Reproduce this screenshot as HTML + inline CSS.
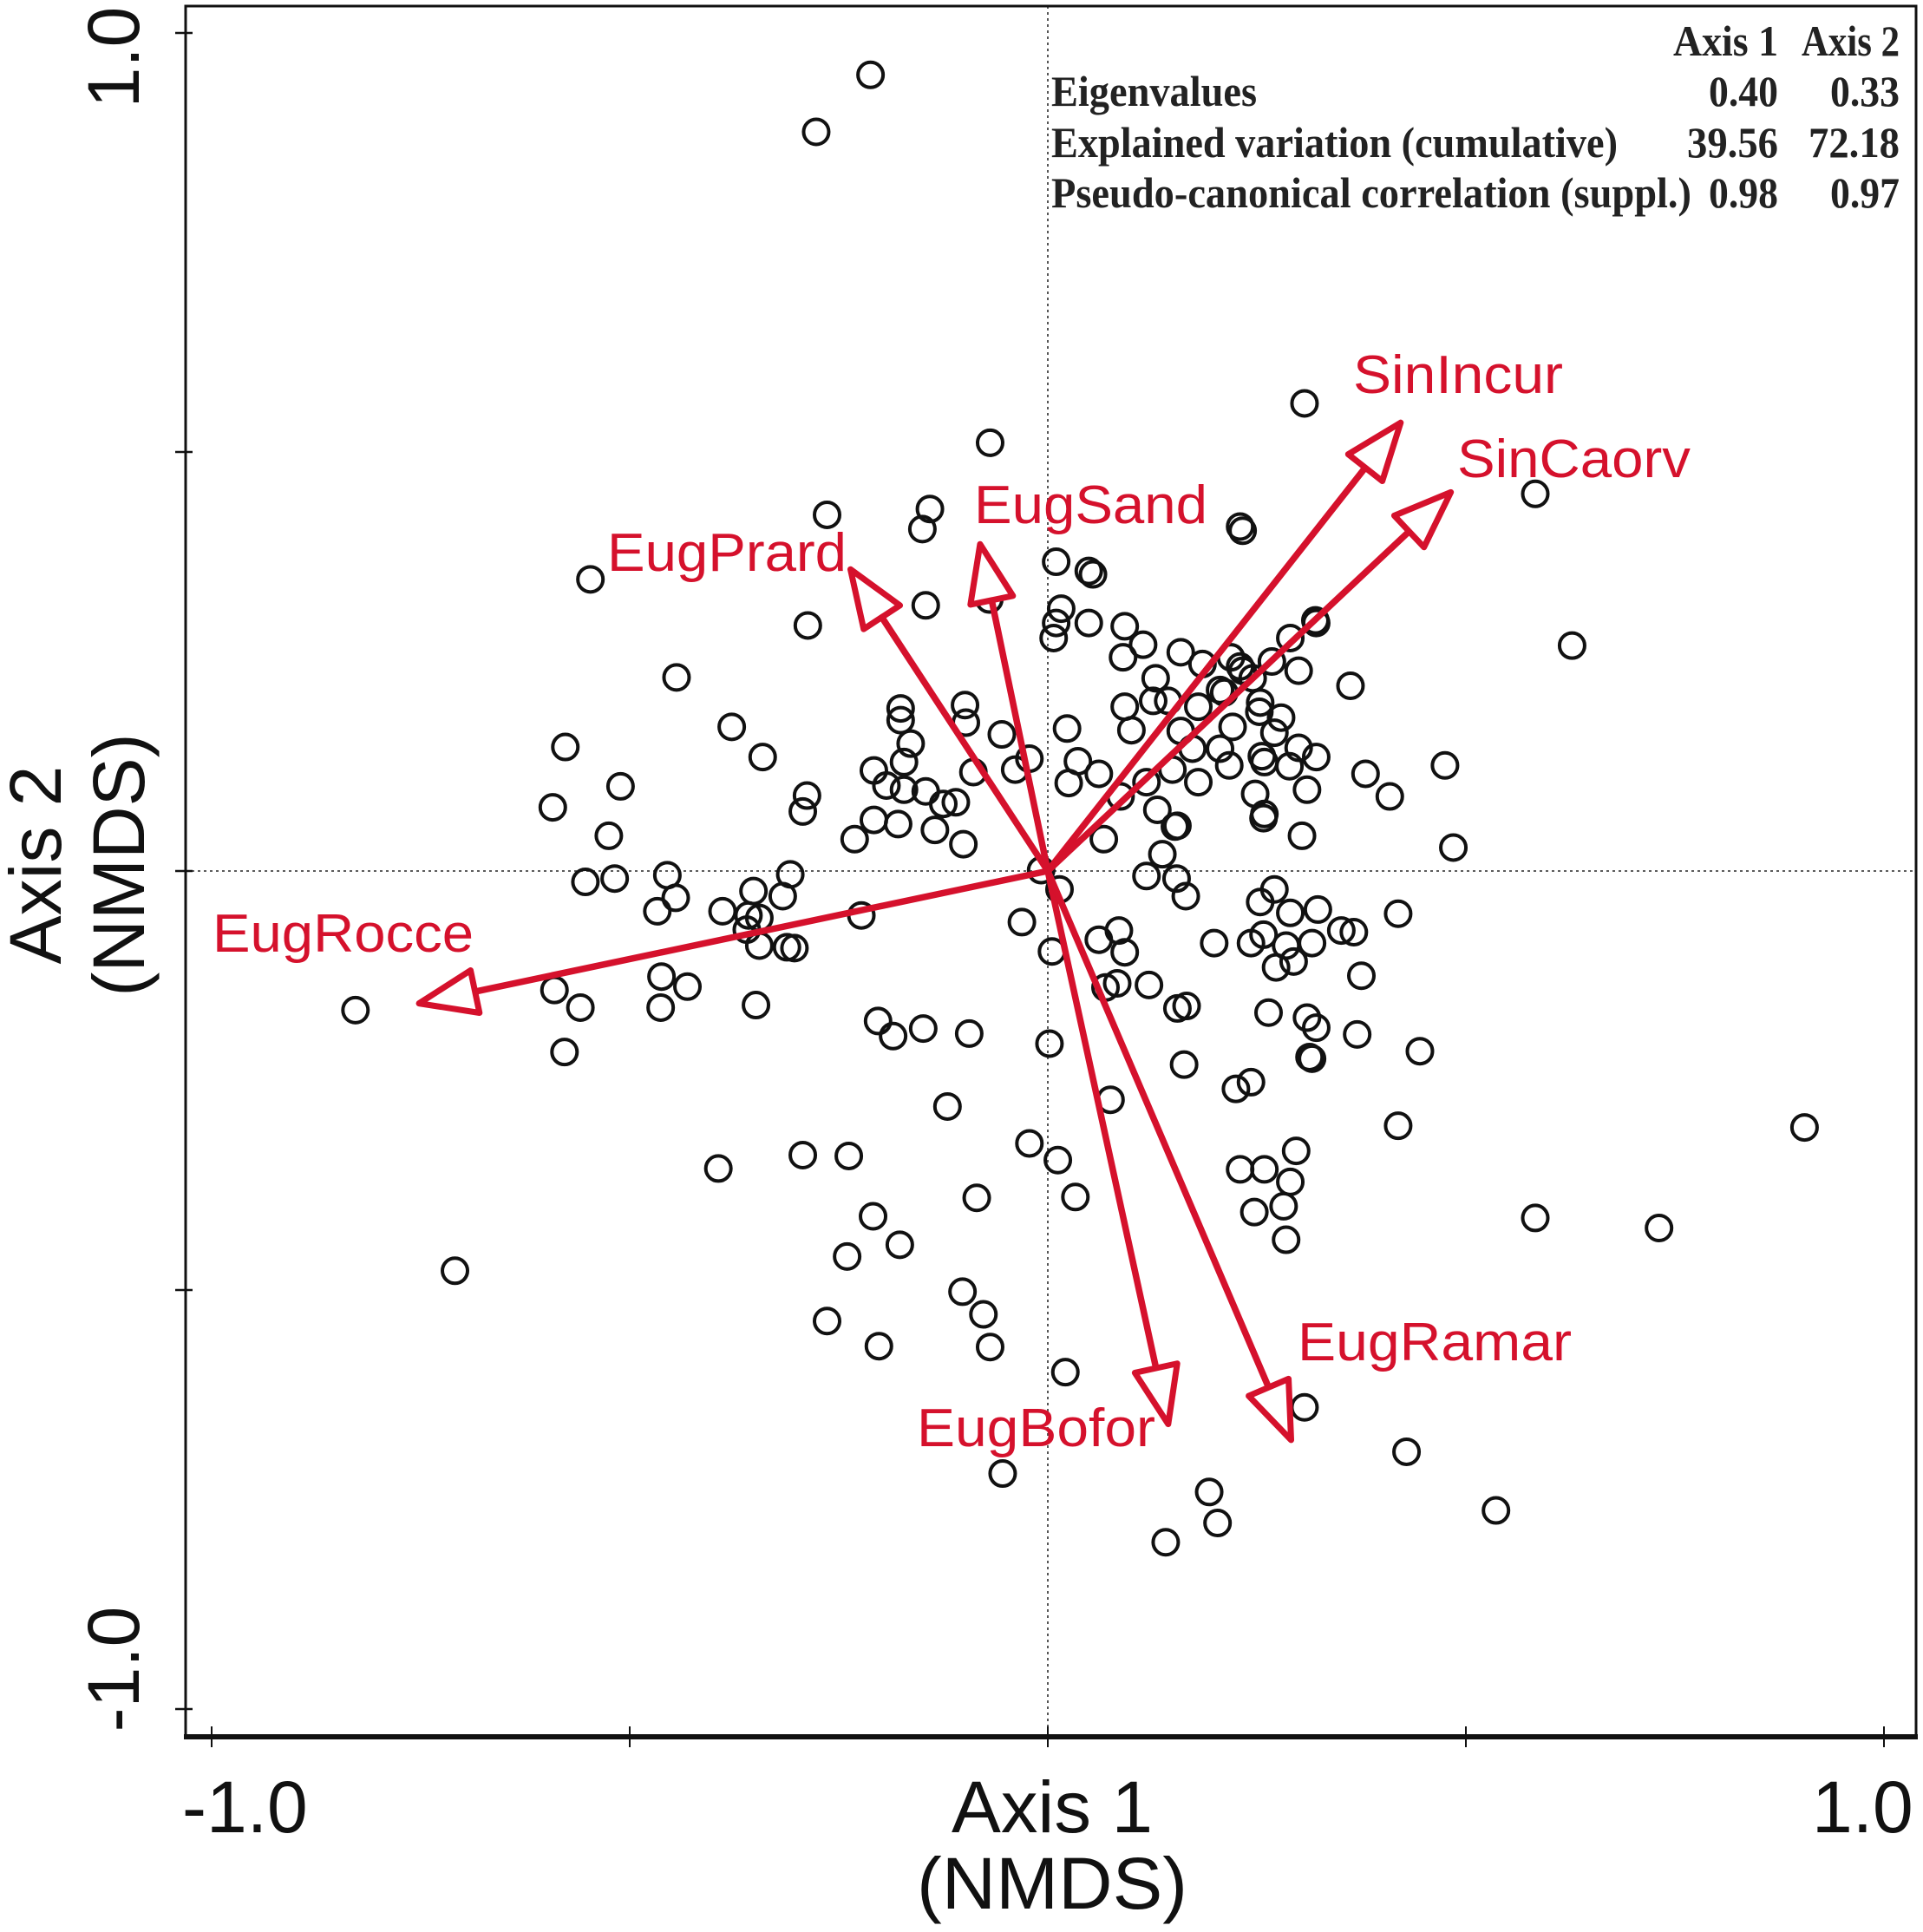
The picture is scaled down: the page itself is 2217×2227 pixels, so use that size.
<!DOCTYPE html>
<html><head><meta charset="utf-8"><style>
html,body{margin:0;padding:0;background:#fff}
svg{display:block}
</style></head><body>
<svg id="chart" xmlns="http://www.w3.org/2000/svg" width="2217" height="2227" viewBox="0 0 2217 2227">
<rect x="0" y="0" width="2217" height="2227" fill="#fff"/>
<g id="grid"></g>
<g id="points"></g>
<g id="arrows"></g>
<g id="frame"></g>
<g id="labels" font-family="'Liberation Sans', sans-serif"></g>
<g id="stats-table" font-family="'Liberation Serif', serif" font-weight="bold" font-size="50" fill="#222"></g>
</svg>
<script>
const ptX = [.230,.233,.010,.049,.054,.016,.010,.007,.049,.092,.114,.090,.159,.185,.219,.230,.233,.245,.268,.290,.320,.321,.300,.362,.129,.126,.144,.180,.206,.211,.254,.253,.279,.092,.100,.023,.159,.221,.271,.173,.206,.300,.321,.256,.259,.289,.217,.036,.061,.025,.149,.180,.118,.087,.131,.152,.155,.248,.310,.259,.258,.380,.409,.475,.304,.485,.067,.137,-.008,
.014,.118,.154,.165,.271,.254,.290,.323,.419,.351,.366,.061,.085,.092,.005,.199,.243,.258,.285,.316,.294,.273,.375,.069,.083,.121,.155,.166,.264,.310,.321,.370,.002,.445,.313,.316,.163,.225,.243,.075,.419,.012,.033,.230,.259,.297,.290,.247,.282,.285,
-.378,-.341,-.288,-.293,-.176,-.176,-.164,-.172,-.208,-.193,-.172,-.146,-.125,-.110,-.099,-.098,-.055,-.089,-.039,-.022,-.208,-.179,-.231,-.135,-.101,-.308,-.352,-.317,-.389,-.358,-.345,-.360,-.345,-.312,-.303,-.223,-.031,
-.212,-.277,.307,-.069,.583,-.141,-.264,-.150,-.547,-.146,-.070,-.287,.627,-.444,-.577,-.511,-.592,-.525,-.553,-.518,-.455,-.445,-.467,-.828,-.590,-.559,-.578,-.462,-.463,-.431,-.349,-.203,-.185,-.149,-.094,-.120,-.022,-.394,-.293,-.238,-.709,-.209,-.177,-.240,-.085,-.102,-.077,-.069,-.264,-.202,.021,-.054,.307,.429,.536,.193,.203,.141,.905,.731,.583];
const ptY = [.411,.406,.369,.358,.354,.313,.296,.278,.296,.292,.270,.255,.261,.247,.255,.244,.239,.230,.250,.278,.299,.296,.239,.221,.230,.203,.203,.196,.216,.213,.201,.190,.183,.196,.168,.170,.167,.172,.165,.146,.146,.147,.136,.137,.130,.125,.126,.131,.116,.105,.121,.106,.106,.089,.073,.053,.054,.092,.097,.068,.063,.116,.089,.126,.042,.028,.038,.020,.001,
-.022,-.006,-.009,-.030,-.022,-.037,-.050,-.046,-.051,-.071,-.073,-.082,-.071,-.097,-.096,-.086,-.086,-.076,-.089,-.086,-.108,-.115,-.125,-.139,-.134,-.136,-.164,-.161,-.169,-.175,-.187,-.195,-.206,-.215,-.222,-.224,-.231,-.260,-.252,-.273,-.304,-.345,-.389,-.356,-.356,-.334,-.371,-.407,-.400,-.440,
.172,.136,.090,.071,.194,.180,.152,.130,.120,.102,.097,.095,.080,.082,.198,.177,.163,.118,.121,.134,.061,.056,.038,.049,.032,-.004,-.024,-.030,-.048,-.053,-.056,-.070,-.089,-.091,-.092,-.053,-.061,
.950,.882,.558,.511,.450,.432,.425,.408,.348,.317,.324,.293,.269,.231,.148,.101,.076,.042,-.013,-.009,-.005,-.032,-.048,-.166,-.142,-.163,-.216,-.126,-.163,-.138,-.160,-.179,-.197,-.188,-.194,-.281,-.325,-.355,-.339,-.340,-.477,-.412,-.446,-.460,-.390,-.502,-.529,-.568,-.537,-.567,-.598,-.719,-.640,-.693,-.763,-.741,-.778,-.801,-.306,-.426,-.414];
const vecNames = ["EugRocce","EugPrard","EugSand","SinIncur","SinCaorv","EugBofor","EugRamar"];
const vecX = [-.752,-.236,-.081,.422,.482,.144,.291];
const vecY = [-.158,.360,.390,.535,.452,-.660,-.679];
const xTicks = [-1,-0.5,0,0.5,1];
const yTicks = [1,0.5,0,-0.5,-1];
const xTickLabels = ["-1.0","1.0"];
const yTickLabels = ["1.0","-1.0"];
const statCols = ["Axis 1","Axis 2"];
const statRows = ["Eigenvalues","Explained variation (cumulative)","Pseudo-canonical correlation (suppl.)"];
const statAxis1 = ["0.40","39.56","0.98"];
const statAxis2 = ["0.33","72.18","0.97"];

const NS="http://www.w3.org/2000/svg";
const CX=1208, CY=1004, UX=964, UY=966;
const L=214, R=2209, T=7, B=2002;
const sx=v=>CX+v*UX, sy=v=>CY-v*UY;
function mk(tag,attrs,parent){const e=document.createElementNS(NS,tag);for(const k in attrs)e.setAttribute(k,attrs[k]);parent.appendChild(e);return e;}
const RED="#d5112c";

const grid=document.getElementById('grid');
let e=mk('line',{x1:L,x2:R,y1:sy(0),y2:sy(0),stroke:'#444','stroke-width':1.8,'stroke-dasharray':'3 4'},grid);


e=mk('line',{x1:sx(0),x2:sx(0),y1:T,y2:B,stroke:'#444','stroke-width':1.8,'stroke-dasharray':'3 4'},grid);



const pg=document.getElementById('points');
for(let i=0;i<ptX.length;i++){
  const c=mk('circle',{cx:sx(ptX[i]),cy:sy(ptY[i]),r:14.5,fill:'none',stroke:'#111','stroke-width':4},pg);
  
  
}

const ag=document.getElementById('arrows');
for(let i=0;i<vecNames.length;i++){
  const tx=sx(vecX[i]), ty=sy(vecY[i]);
  const dx=tx-CX, dy=ty-CY, len=Math.hypot(dx,dy), ux=dx/len, uy=dy/len;
  const HL=66, HW=25;
  const bx=tx-ux*HL, by=ty-uy*HL;
  const g=mk('g',{},ag);
  
  
  mk('line',{x1:CX,y1:CY,x2:bx,y2:by,stroke:RED,'stroke-width':7.5},g);
  mk('polygon',{points:`${tx},${ty} ${bx-uy*HW},${by+ux*HW} ${bx+uy*HW},${by-ux*HW}`,fill:'#fff',stroke:RED,'stroke-width':7,'stroke-linejoin':'round'},g);
}

const fg=document.getElementById('frame');
e=mk('rect',{x:L,y:T,width:R-L,height:B-T,fill:'none',stroke:'#111','stroke-width':3},fg);


e=mk('line',{x1:L-2,x2:R+2,y1:B,y2:B,stroke:'#111','stroke-width':6},fg);


for(const t of xTicks){
  e=mk('line',{x1:sx(t),x2:sx(t),y1:B-12,y2:B+12,stroke:'#111','stroke-width':2},fg);
  
  
}
for(const t of yTicks){
  e=mk('line',{x1:L-12,x2:L+8,y1:sy(t),y2:sy(t),stroke:'#111','stroke-width':2.5},fg);
  
  
}

const lg=document.getElementById('labels');
function txt(s,attrs,name){const t=mk('text',attrs,lg);t.textContent=s;return t;}
txt(xTickLabels[0],{x:210,y:2112,'font-size':84,fill:'#111'},'x-tick-label-min');
txt(xTickLabels[1],{x:2089,y:2112,'font-size':84,fill:'#111'},'x-tick-label-max');
txt("Axis 1",{x:1213,y:2112,'font-size':84,'text-anchor':'middle',fill:'#111',textLength:232,lengthAdjust:'spacingAndGlyphs'},'x-axis-title');
txt("(NMDS)",{x:1213,y:2200,'font-size':84,'text-anchor':'middle',fill:'#111',textLength:312,lengthAdjust:'spacingAndGlyphs'},'x-axis-subtitle');
txt(yTickLabels[0],{x:0,y:0,'font-size':84,'text-anchor':'middle',fill:'#111',transform:'translate(160,66) rotate(-90)'},'y-tick-label-max');
txt(yTickLabels[1],{x:0,y:0,'font-size':84,'text-anchor':'middle',fill:'#111',transform:'translate(160,1924) rotate(-90)'},'y-tick-label-min');
txt("Axis 2",{x:0,y:0,'font-size':84,'text-anchor':'middle',fill:'#111',transform:'translate(70,997) rotate(-90)'},'y-axis-title');
txt("(NMDS)",{x:0,y:0,'font-size':84,'text-anchor':'middle',fill:'#111',transform:'translate(166,997) rotate(-90)'},'y-axis-subtitle');
const vlab=[[245,1097,301],[700,658,276],[1123,603,269],[1560,453,242],[1680,550,269],[1057,1667,275],[1496,1568,316]];
for(let i=0;i<vecNames.length;i++){
  txt(vecNames[i],{x:vlab[i][0],y:vlab[i][1],'font-size':62,fill:RED,textLength:vlab[i][2],lengthAdjust:'spacingAndGlyphs'},'label-'+vecNames[i].toLowerCase());
}

const sg=document.getElementById('stats-table');
function st(s,attrs,name){const t=mk('text',attrs,sg);t.textContent=s;return t;}
st(statCols[0],{x:2050,y:64,'text-anchor':'end',textLength:121,lengthAdjust:'spacingAndGlyphs'},'header-axis-1');
st(statCols[1],{x:2190,y:64,'text-anchor':'end',textLength:113,lengthAdjust:'spacingAndGlyphs'},'header-axis-2');
const rowY=[122,181,239], rowW=[237,653,738];
const v1W=[80,105,80], v2W=[80,105,80];
for(let i=0;i<statRows.length;i++){
  st(statRows[i],{x:1212,y:rowY[i],textLength:rowW[i],lengthAdjust:'spacingAndGlyphs'},'row-label');
  st(statAxis1[i],{x:2050,y:rowY[i],'text-anchor':'end',textLength:v1W[i],lengthAdjust:'spacingAndGlyphs'},'value-axis-1');
  st(statAxis2[i],{x:2190,y:rowY[i],'text-anchor':'end',textLength:v2W[i],lengthAdjust:'spacingAndGlyphs'},'value-axis-2');
}
</script>
</body></html>
